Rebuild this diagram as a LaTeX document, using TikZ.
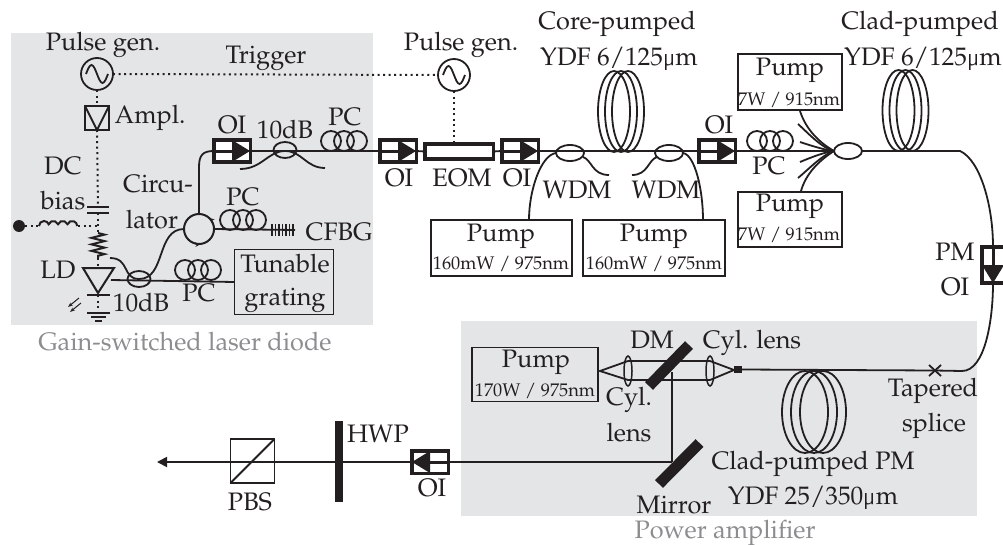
\documentclass[tikz,border=0pt]{standalone}
\usepackage[T1]{fontenc}
\usepackage{mathpazo}
\usepackage{tikz}
\usetikzlibrary{positioning, arrows.meta, calc, decorations.pathmorphing, shapes.geometric}
\definecolor{ink}{HTML}{231f20}
\definecolor{panel}{HTML}{e4e5e7}
\definecolor{captc}{HTML}{8c8d8f}
\newcommand{\um}{{\usefont{TS1}{cmss}{sbc}{n}\textmu}m}
\tikzset{
lbl/.style={inner sep=0pt, font=\fontsize{14.4}{17}\selectfont},
lblsm/.style={inner sep=0pt, font=\fontsize{10.4}{12}\selectfont},
capt/.style={lbl, color=captc},
fiber/.style={line width=0.036cm},
trig/.style={line width=0.04cm, dotted},
pumpbox/.style={draw, line width=0.036cm, inner sep=0pt, outer sep=0pt},
coupler/.style={draw, ellipse, line width=0.036cm, inner sep=0pt, outer sep=0pt, minimum width=0.46cm, minimum height=0.32cm},
mirrorbar/.style={line width=0.22cm, line cap=butt},
oibox/.style={draw, line width=0.07cm, fill=white, inner sep=0pt, outer sep=0pt, minimum width=0.73cm, minimum height=0.45cm},
oi/.pic={
\node[oibox, transform shape] (-box) at (0,0) {};
\draw[line width=0.06cm] (-18,0) -- (0,0);
\fill (0,-11) -- (18,0) -- (0,11) -- cycle;
},
pcloops/.pic={
\draw[fiber] (-13,0) circle [radius=10];
\draw[fiber] (0,0) circle [radius=10];
\draw[fiber] (13,0) circle [radius=10];
},
coil/.pic={
\draw[fiber] (-7,0) ellipse [x radius=16, y radius=40.5];
\draw[fiber] (0,0) ellipse [x radius=16, y radius=40.5];
\draw[fiber] (7,0) ellipse [x radius=16, y radius=40.5];
},
pmcoil/.pic={
\draw[fiber] (-9,0) ellipse [x radius=23, y radius=41];
\draw[fiber] (0,0) ellipse [x radius=23, y radius=41];
\draw[fiber] (9,0) ellipse [x radius=23, y radius=41];
},
srcgen/.pic={
\node[draw, circle, line width=0.036cm, minimum size=0.64cm, inner sep=0pt, outer sep=0pt] (-c) at (0,0) {};
\draw[fiber] (-11,0) sin (-5.5,-9) cos (0,0) sin (5.5,9) cos (11,0);
}
}
\begin{document}
\begin{tikzpicture}[x=0.02cm, y=-0.02cm, color=ink]
\useasboundingbox (0,0) rectangle (1003,544);
\fill[panel] (11,33) rectangle (373,325);
\fill[panel] (461,321) rectangle (977,516);
\node[lbl] (lpulsea) at (103,45) {Pulse gen.};
\node[lbl] (ltrigger) at (266,58) {Trigger};
\node[lbl] (lpulseb) at (461,45) {Pulse gen.};
\pic (srca) at (97,74) {srcgen};
\pic (srcb) at (454,75) {srcgen};
\draw[trig] (srca-c.east) -- (srcb-c.west);
\node[pumpbox, minimum size=0.48cm] (ampl) at (97,118) {};
\draw[fiber] (ampl.north west) -- (ampl.south) -- (ampl.north east);
\node[lbl, right=3pt of ampl.east, anchor=west] (lampl) {Ampl.};
\draw[trig] (srca-c.south) -- (ampl.north);
\node[lbl] (ldc) at (63,166) {DC};
\node[lbl] (lbias) at (63,201) {bias};
\coordinate (capa) at (98,207);
\coordinate (capb) at (98,213);
\draw[trig] (ampl.south) -- (capa);
\draw[line width=0.05cm] (87,207) -- (109,207);
\draw[line width=0.05cm] (87,213) -- (109,213);
\node[circle, fill=ink, minimum size=0.24cm, inner sep=0pt] (biasdot) at (19,226) {};
\coordinate (inda) at (39,226);
\coordinate (indb) at (78,226);
\coordinate (junc) at (98,226);
\draw[trig] (biasdot.east) -- (inda);
\draw[fiber, line width=0.04cm] (inda) arc[start angle=180, end angle=20, radius=0.1cm] arc[start angle=160, end angle=20, radius=0.1cm] arc[start angle=160, end angle=20, radius=0.1cm] arc[start angle=160, end angle=0, radius=0.1cm];
\draw[trig] (indb) -- (junc);
\coordinate (resa) at (98,233);
\coordinate (resb) at (98,258);
\draw[trig] (capb) -- (resa);
\draw[fiber, line width=0.04cm, decorate, decoration={zigzag, segment length=0.13cm, amplitude=0.13cm}] (resa) -- (resb);
\coordinate (ldtop) at (98,268);
\draw[trig] (resb) -- (ldtop);
\draw[fiber, line width=0.04cm] (83,268) -- (114,268) -- (98,293) -- cycle;
\draw[line width=0.05cm] (87,295) -- (110,295);
\draw[trig] (98,295) -- (98,312);
\draw[line width=0.05cm] (87,313) -- (110,313);
\draw[line width=0.04cm] (91,317) -- (106,317);
\draw[line width=0.04cm] (95,321) -- (102,321);
\draw[line width=0.02cm, -{Stealth[length=0.1cm]}] (79,298) -- (68,307);
\draw[line width=0.02cm, -{Stealth[length=0.1cm]}] (81,303) -- (70,312);
\node[lbl] (lld) at (58,270) {LD};
\node[coupler] (cpla) at (139,279) {};
\node[pumpbox, minimum width=1.98cm, minimum height=1.3cm] (grating) at (284,282) {};
\node[lbl] (ltun) at (285,264) {Tunable};
\node[lbl] (lgrat) at (285,300) {grating};
\draw[fiber] (111,280) -- (grating.west);
\pic at (198,270) {pcloops};
\node[lbl] (lpca) at (199,293) {PC};
\node[lbl] (ldba) at (141,303) {10dB};
\node[draw, circle, line width=0.04cm, minimum size=0.6cm, inner sep=0pt, outer sep=0pt] (circ) at (199,229) {};
\draw[line width=0.02cm, -{Stealth[length=0.12cm]}] (circ.-115) arc[start angle=-115, end angle=-82, radius=0.3cm];
\draw[line width=0.02cm, -{Stealth[length=0.12cm]}] (circ.10) arc[start angle=10, end angle=50, radius=0.3cm];
\draw[fiber] (110,258) .. controls (130,258) and (122,279) .. (139,279) .. controls (166,279) and (156,229) .. (circ.west);
\coordinate (fbgend) at (295,230);
\draw[fiber] (circ.east) -- (fbgend);
\pic at (243,220) {pcloops};
\foreach \xb in {272,275.5,...,295} \draw[line width=0.03cm] (\xb,224) -- (\xb,236);
\node[lbl] (lpcb) at (243,197) {PC};
\node[lbl] (lcfbg) at (339,232) {CFBG};
\node[lbl] (lcirc) at (158,184) {Circu-};
\node[lbl] (llat) at (152,220) {lator};
\pic (oia) at (232,151) {oi};
\draw[fiber] (circ.north) -- (199,167) .. controls (199,155) and (203,151) .. (oia-box.west);
\node[lbl] (loia) at (232,125) {OI};
\pic (oib) at (398,151) {oi};
\node[coupler] (cplb) at (285,150) {};
\draw[fiber] (oia-box.east) -- (oib-box.west);
\draw[fiber] (240,169) .. controls (262,169) and (268,151) .. (285,151) .. controls (302,151) and (306,168) .. (325,168);
\node[lbl] (ldbb) at (285,130) {10dB};
\pic at (344,141) {pcloops};
\node[lbl] (lpcc) at (345,117) {PC};
\node[lbl] (loib) at (399,178) {OI};
\node[draw, line width=0.07cm, fill=white, inner sep=0pt, outer sep=0pt, minimum width=1.37cm, minimum height=0.31cm] (eom) at (459,151.5) {};
\draw[fiber] (oib-box.east) -- (eom.west);
\draw[trig] (srcb-c.south) -- (454,142);
\node[lbl] (leom) at (462,178) {EOM};
\pic (oic) at (520,151) {oi};
\draw[fiber] (eom.east) -- (oic-box.west);
\node[lbl] (loic) at (517,178) {OI};
\pic (oid) at (717,151) {oi};
\draw[fiber] (oic-box.east) -- (oid-box.west);
\node[lbl] (loid) at (719,125) {OI};
\pic at (621,111.5) {coil};
\node[lbl] (lcore) at (617,24) {Core-pumped};
\node[lbl] (lcorey) at (619,59) {YDF 6/125\um};
\node[coupler, minimum width=0.56cm] (wdma) at (570,153) {};
\node[coupler, minimum width=0.56cm] (wdmb) at (669,153) {};
\node[pumpbox, minimum width=2.82cm, minimum height=1.12cm] (pumpa) at (501.5,248) {};
\node[pumpbox, minimum width=2.84cm, minimum height=1.12cm] (pumpb) at (654,248) {};
\node[lbl] (lpumpa) at (501,236) {Pump};
\node[lblsm] (lpa) at (501,264) {160mW / 975nm};
\node[lbl] (lpumpb) at (654,236) {Pump};
\node[lblsm] (lpb) at (654,264) {160mW / 975nm};
\draw[fiber] (pumpa.north -| 529,0) .. controls (529,190) and (541,155) .. (wdma.west);
\draw[fiber] (583,157) .. controls (592,160) and (592,175) .. (609,175);
\draw[fiber] (pumpb.north -| 703,0) .. controls (703,190) and (695,155) .. (wdmb.east);
\draw[fiber] (657,157) .. controls (648,160) and (648,175) .. (632,175);
\node[lbl] (lwdma) at (577,190) {WDM};
\node[lbl] (lwdmb) at (666,190) {WDM};
\pic at (770,141) {pcloops};
\node[lbl] (lpcd) at (769,166) {PC};
\node[coupler, minimum width=0.56cm] (comb) at (848,151) {};
\draw[fiber] (oid-box.east) -- (comb.west);
\node[pumpbox, minimum width=2.08cm, minimum height=1.12cm] (pumpc) at (790,82) {};
\node[pumpbox, minimum width=2.08cm, minimum height=1.1cm] (pumpd) at (790,219.5) {};
\node[lbl] (lpumpc) at (790,70) {Pump};
\node[lblsm] (lpc) at (789,100) {7W / 915nm};
\node[lbl] (lpumpd) at (790,206) {Pump};
\node[lblsm] (lpd) at (789,235) {7W / 915nm};
\draw[fiber] (800,111) .. controls (806,130) and (820,143) .. (comb.west);
\draw[fiber] (798,124) .. controls (810,135) and (822,148) .. (comb.west);
\draw[fiber] (800,142) .. controls (812,146) and (825,150) .. (comb.west);
\draw[fiber] (800,162) .. controls (812,157) and (825,152) .. (comb.west);
\draw[fiber] (798,178) .. controls (810,168) and (822,155) .. (comb.west);
\draw[fiber] (801,191) .. controls (806,173) and (820,160) .. (comb.west);
\pic at (905.5,110.5) {coil};
\node[lbl] (lclad) at (920,24) {Clad-pumped};
\node[lbl] (lcladb) at (923,59) {YDF 6/125\um};
\pic[rotate=-90] (oie) at (993,265) {oi};
\draw[fiber] (comb.east) -- (960,151) .. controls (980,160) and (993,205) .. (oie-box.west);
\node[lbl] (lpm) at (955,252) {PM};
\node[lbl] (loie) at (955,287) {OI};
\node[pumpbox, minimum width=2.52cm, minimum height=1.08cm] (pumpe) at (535,374.5) {};
\node[lbl] (lpumpe) at (536,362) {Pump};
\node[lblsm] (lpe) at (535,391) {170W / 975nm};
\node[draw, ellipse, line width=0.03cm, inner sep=0pt, minimum width=0.16cm, minimum height=0.6cm] (lensa) at (628,371) {};
\node[draw, ellipse, line width=0.03cm, inner sep=0pt, minimum width=0.16cm, minimum height=0.6cm] (lensb) at (710,371) {};
\coordinate (focus) at (734,370);
\coordinate (pumpout) at (600,371);
\draw[fiber] (628,361) -- (pumpout) -- (628,380);
\draw[fiber] (710,361) -- (focus) -- (710,380);
\draw[fiber] (628,361) -- (710,361);
\draw[fiber] (628,380) -- (710,380);
\draw[mirrorbar] (689,345) -- (649,386);
\node[fill=ink, minimum width=0.15cm, minimum height=0.15cm, inner sep=0pt] (taper) at (738,369.5) {};
\coordinate (splice) at (935,370.5);
\draw[fiber] (taper.east) -- (splice) -- (962,371) .. controls (985,371) and (993,320) .. (oie-box.east);
\draw[fiber] (929,365) -- (941,376);
\draw[fiber] (941,365) -- (929,376);
\pic at (814,412) {pmcoil};
\node[lbl] (ltap) at (933,391) {Tapered};
\node[lbl] (lspl) at (934,426) {splice};
\node[lbl] (ldm) at (652,340) {DM};
\node[lbl] (lcyla) at (752,343) {Cyl. lens};
\node[lbl] (lcylb) at (629,400) {Cyl.};
\node[lbl] (lcylc) at (629,433) {lens};
\node[lbl] (lcp) at (813,464) {Clad-pumped PM};
\node[lbl] (lyd) at (813,498) {YDF 25/350\um};
\node[lbl] (lmir) at (674,505) {Mirror};
\node[capt] (lpow) at (725,533) {Power amplifier};
\node[capt] (lgain) at (185,342) {Gain-switched laser diode};
\coordinate (turn) at (672,462);
\draw[fiber] (672,372) -- (turn);
\draw[mirrorbar] (699.5,443) -- (659,484);
\pic[rotate=180] (oif) at (430,462) {oi};
\draw[fiber] (turn) -- (oif-box.west);
\node[lbl] (loif) at (432,488) {OI};
\node[pumpbox, minimum size=0.88cm] (pbs) at (252.5,461) {};
\coordinate (beamend) at (157,462);
\draw[fiber, -{Triangle[length=0.2cm, width=0.2cm]}] (oif-box.east) -- (beamend);
\draw[fiber] (pbs.south west) -- (pbs.north east);
\fill (335,421) rectangle (343,502);
\node[lbl] (lhwp) at (378,434) {HWP};
\node[lbl] (lpbs) at (250,502) {PBS};
\end{tikzpicture}
\end{document}
